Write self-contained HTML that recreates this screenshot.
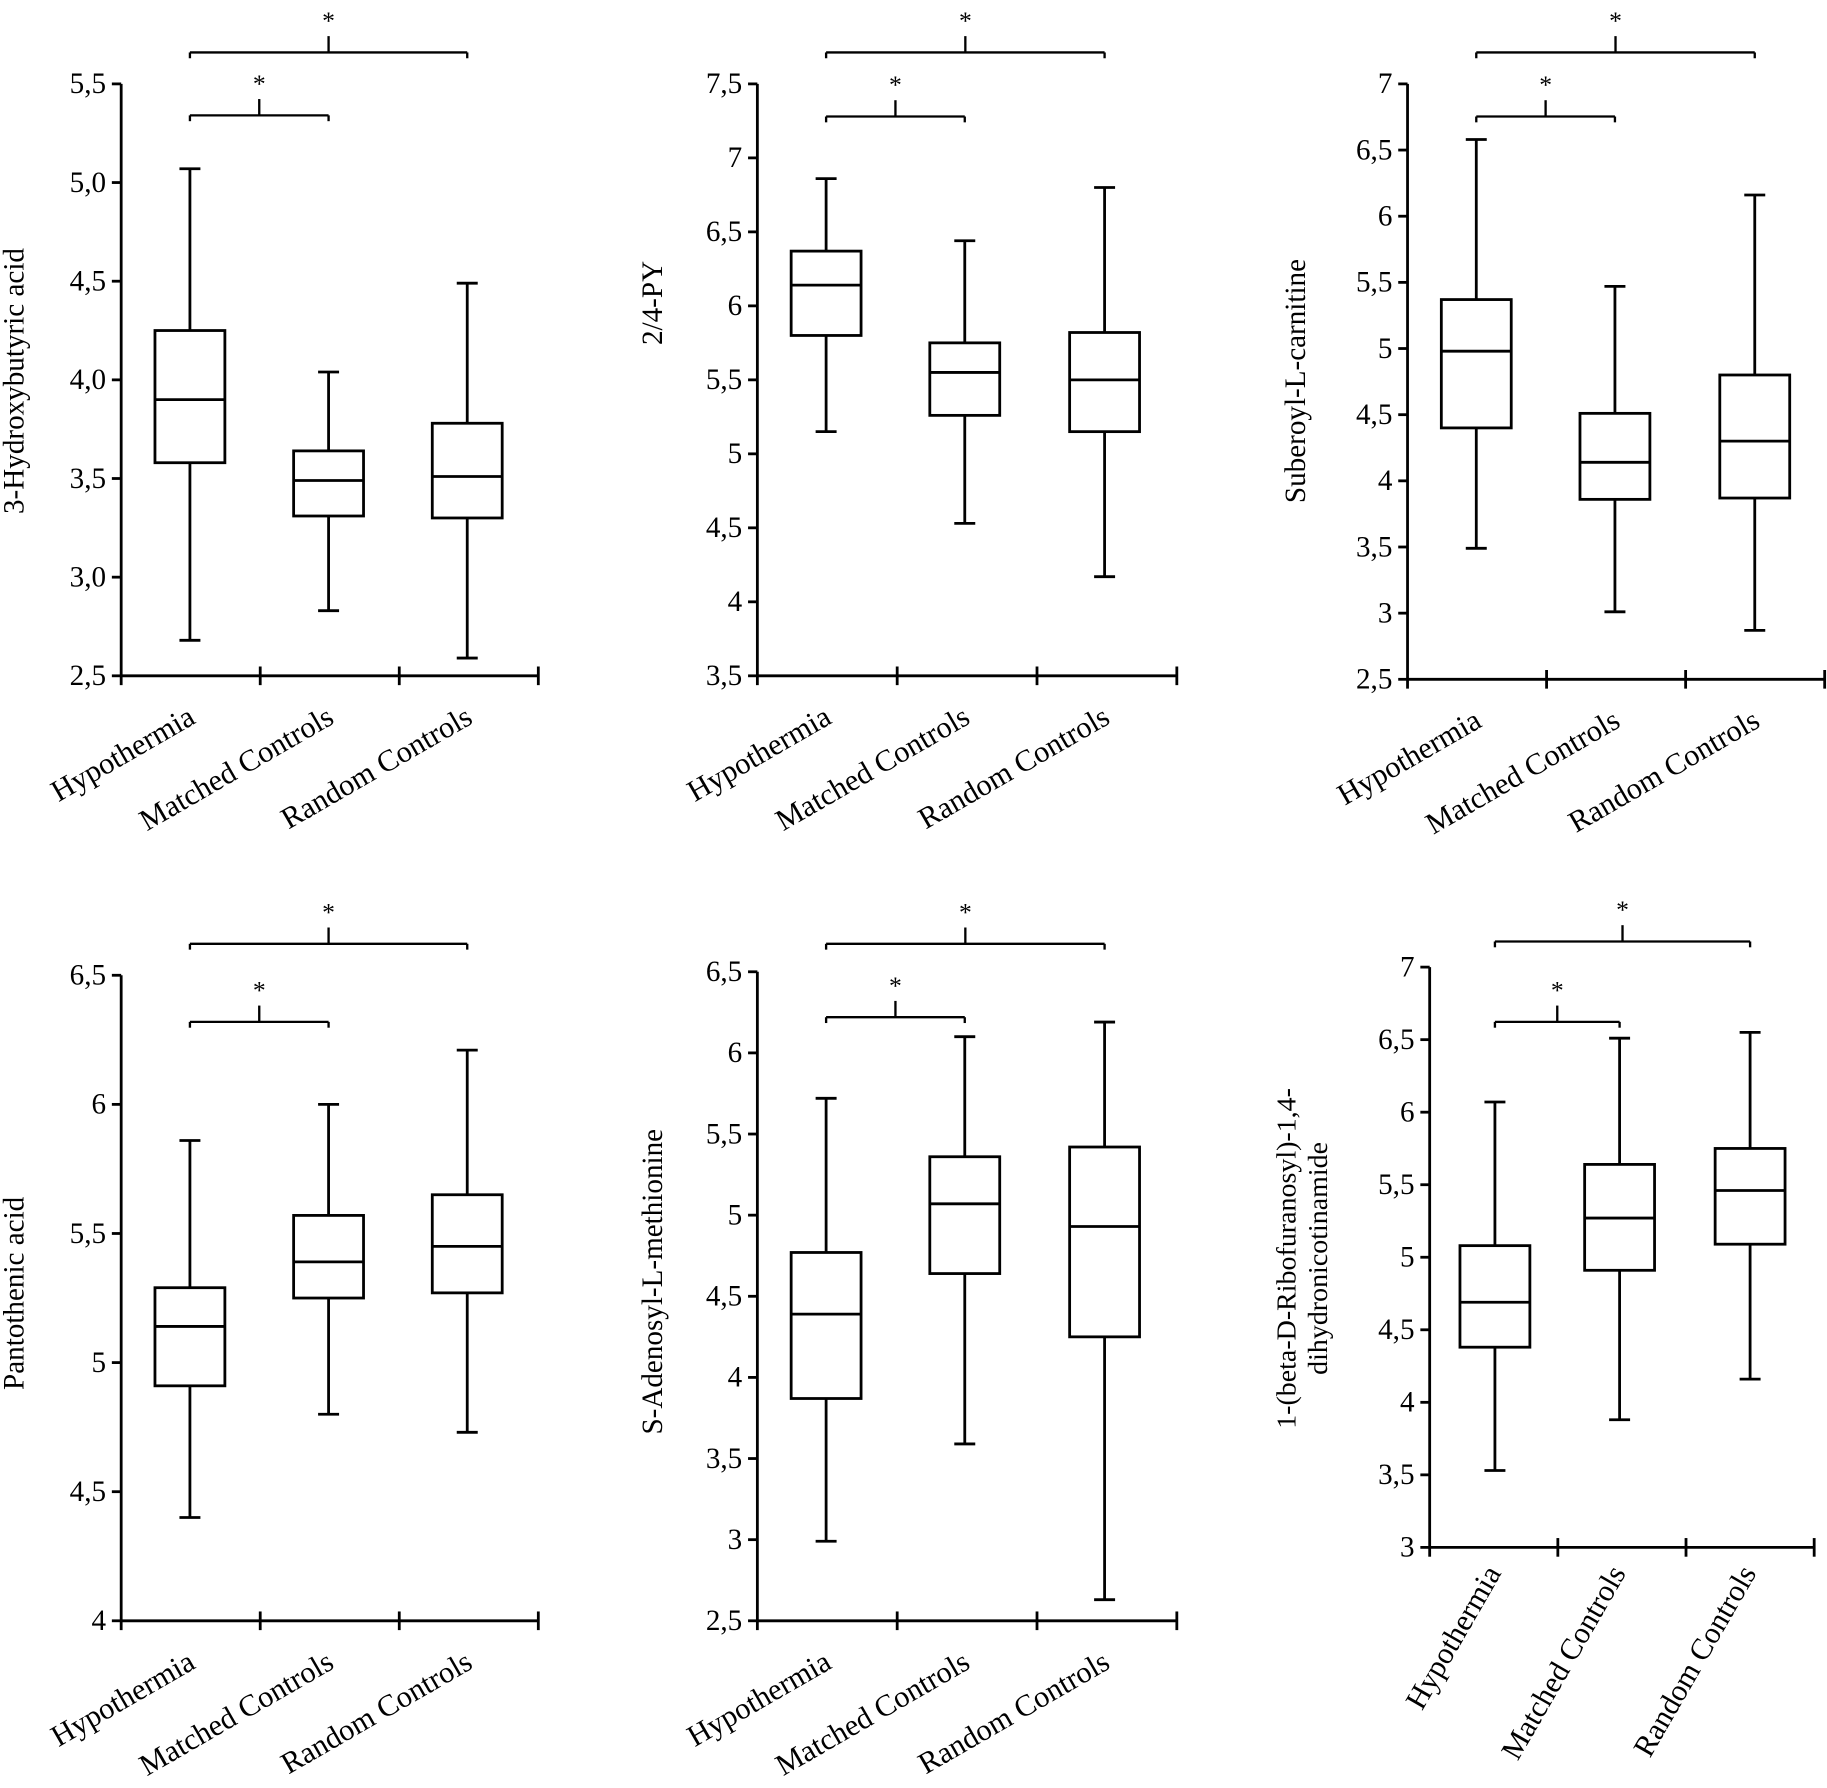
<!DOCTYPE html>
<html><head><meta charset="utf-8"><style>html,body{margin:0;padding:0;background:#fff}svg{display:block}</style></head>
<body>
<svg id="s" width="1827" height="1788" viewBox="0 0 1568 1534.5" preserveAspectRatio="none" xmlns="http://www.w3.org/2000/svg" font-family="Liberation Serif, serif"></svg>
<script>
const S=document.getElementById('s');let o='';
function L(x1,y1,x2,y2,w){o+=`<line x1="${x1}" y1="${y1}" x2="${x2}" y2="${y2}" stroke="#000" stroke-width="${w||2.4}"/>`;}
function T(x,y,t,a,rot,fs){o+=`<text x="${x}" y="${y}" font-size="${fs||20}" text-anchor="${a||'middle'}"${rot!==undefined?` transform="rotate(${rot} ${x} ${y})"`:''}>${t}</text>`;}
function P(p){
 const {ax,yT,yB,xE,vT,vB,ticks,cen,boxes,br,ylab,ylx,yly,xrot,xly}=p;
 const Y=v=>yB-(v-vB)/(vT-vB)*(yB-yT);
 L(ax,yT,ax,yB);L(ax,yB,xE,yB);
 ticks.forEach(t=>{const y=Y(t[0]);L(ax-8,y,ax,y);T(ax-13,y+8,t[1],'end',undefined,25);});
 const step=(xE-ax)/3;for(let i=1;i<=3;i++){L(ax+step*i,yB-8,ax+step*i,yB+8);}
 L(ax,yB,ax,yB+8);
 const hw=30;
 boxes.forEach((b,i)=>{const c=cen[i];
  L(c,Y(b[0]),c,Y(b[1]));L(c,Y(b[3]),c,Y(b[4]));
  L(c-9,Y(b[0]),c+9,Y(b[0]));L(c-9,Y(b[4]),c+9,Y(b[4]));
  o+=`<rect x="${c-hw}" y="${Y(b[1])}" width="${2*hw}" height="${Y(b[3])-Y(b[1])}" fill="none" stroke="#000" stroke-width="2.4"/>`;
  L(c-hw,Y(b[2]),c+hw,Y(b[2]));
 });
 [[cen[0],cen[2],br[0]],[cen[0],cen[1],br[1]]].forEach(q=>{
  const [a,b,y]=q,m=(a+b)/2;
  L(a,y,b,y,2);L(a,y,a,y+5,2);L(b,y,b,y+5,2);L(m,y,m,y-14,2);T(m,y-20,'*','middle',undefined,22);
 });
 const names=['Hypothermia','Matched Controls','Random Controls'];
 names.forEach((n,i)=>T(cen[i]+6,xly,n,'end',xrot,26));
 if(Array.isArray(ylab)){ylab.forEach((s,i)=>T(ylx+i*27,yly,s,'middle',-90,24));}
 else T(ylx,yly,ylab,'middle',-90,25);
}
const hx=[[5.5,'5,5'],[5,'5,0'],[4.5,'4,5'],[4,'4,0'],[3.5,'3,5'],[3,'3,0'],[2.5,'2,5']];
P({ax:104,yT:72,yB:580,xE:462,vT:5.5,vB:2.5,ticks:hx,cen:[163,282,401],
 boxes:[[5.07,4.25,3.9,3.58,2.68],[4.04,3.64,3.49,3.31,2.83],[4.49,3.78,3.51,3.30,2.59]],
 br:[45,99],ylab:'3-Hydroxybutyric acid',ylx:20,yly:327,xrot:-30,xly:620});
P({ax:650,yT:72,yB:580,xE:1010,vT:7.5,vB:3.5,ticks:[[7.5,'7,5'],[7,'7'],[6.5,'6,5'],[6,'6'],[5.5,'5,5'],[5,'5'],[4.5,'4,5'],[4,'4'],[3.5,'3,5']],cen:[709,828,948],
 boxes:[[6.86,6.37,6.14,5.80,5.15],[6.44,5.75,5.55,5.26,4.53],[6.80,5.82,5.50,5.15,4.17]],
 br:[45,100],ylab:'2/4-PY',ylx:568,yly:260,xrot:-30,xly:620});
P({ax:1208,yT:72,yB:583,xE:1566,vT:7,vB:2.5,ticks:[[7,'7'],[6.5,'6,5'],[6,'6'],[5.5,'5,5'],[5,'5'],[4.5,'4,5'],[4,'4'],[3.5,'3,5'],[3,'3'],[2.5,'2,5']],cen:[1267,1386,1506],
 boxes:[[6.58,5.37,4.98,4.40,3.49],[5.47,4.51,4.14,3.86,3.01],[6.16,4.80,4.30,3.87,2.87]],
 br:[45,100],ylab:'Suberoyl-L-carnitine',ylx:1120,yly:327,xrot:-30,xly:623});
P({ax:104,yT:837,yB:1391,xE:462,vT:6.5,vB:4,ticks:[[6.5,'6,5'],[6,'6'],[5.5,'5,5'],[5,'5'],[4.5,'4,5'],[4,'4']],cen:[163,282,401],
 boxes:[[5.86,5.29,5.14,4.91,4.40],[6.00,5.57,5.39,5.25,4.80],[6.21,5.65,5.45,5.27,4.73]],
 br:[810,877],ylab:'Pantothenic acid',ylx:20,yly:1110,xrot:-30,xly:1431});
P({ax:650,yT:834,yB:1391,xE:1010,vT:6.5,vB:2.5,ticks:[[6.5,'6,5'],[6,'6'],[5.5,'5,5'],[5,'5'],[4.5,'4,5'],[4,'4'],[3.5,'3,5'],[3,'3'],[2.5,'2,5']],cen:[709,828,948],
 boxes:[[5.72,4.77,4.39,3.87,2.99],[6.10,5.36,5.07,4.64,3.59],[6.19,5.42,4.93,4.25,2.63]],
 br:[810,873],ylab:'S-Adenosyl-L-methionine',ylx:568,yly:1100,xrot:-30,xly:1431});
P({ax:1227,yT:830,yB:1328,xE:1557,vT:7,vB:3,ticks:[[7,'7'],[6.5,'6,5'],[6,'6'],[5.5,'5,5'],[5,'5'],[4.5,'4,5'],[4,'4'],[3.5,'3,5'],[3,'3']],cen:[1283,1390,1502],
 boxes:[[6.07,5.08,4.69,4.38,3.53],[6.51,5.64,5.27,4.91,3.88],[6.55,5.75,5.46,5.09,4.16]],
 br:[808,877],ylab:['1-(beta-D-Ribofuranosyl)-1,4-','dihydronicotinamide'],ylx:1112,yly:1080,xrot:-60,xly:1350});
S.innerHTML=o;
</script>
</body></html>
